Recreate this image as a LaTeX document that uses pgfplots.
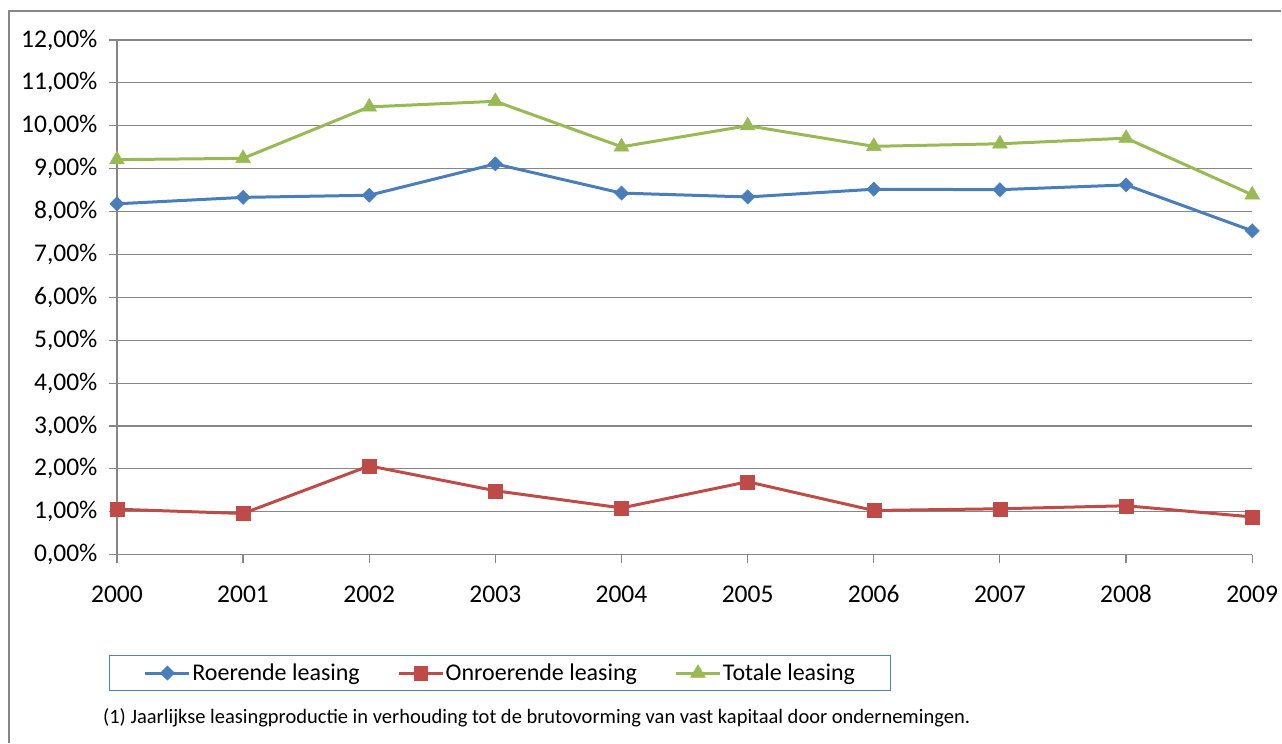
\documentclass[border=0pt]{standalone}
\usepackage{fontspec}
\setmainfont{Carlito}
\usepackage{pgfplots}
\pgfplotsset{compat=1.18}
\definecolor{cblue}{RGB}{74,126,187}
\definecolor{cred}{RGB}{190,75,72}
\definecolor{cgreen}{RGB}{152,185,84}
\definecolor{cgrid}{RGB}{134,134,134}
\definecolor{clegend}{RGB}{79,129,189}
\begin{document}
\begin{tikzpicture}[x=1pt,y=1pt]
\path (0,0) rectangle (1282,743);
\draw[cgrid, line width=1.5pt] (9,0) -- (9,732) -- (1282,732);
\begin{axis}[
  set layers,
  at={(117pt,188pt)}, anchor=south west,
  width=1136pt, height=515pt, scale only axis,
  xmin=2000, xmax=2009, ymin=0, ymax=12,
  xtick={2000,...,2009}, ytick={0,...,12},
  separate axis lines,
  every outer x axis line/.style={draw=none},
  every outer y axis line/.style={draw=none},
  axis line style={draw=none},
  ymajorgrids=false, xmajorgrids=false,
  extra description/.code={
    \pgfonlayer{axis grid}
    \foreach \i in {1,...,12} {
      \pgfmathsetmacro{\yy}{\i/12}
      \draw[cgrid, line width=1.2pt] (rel axis cs:0,\yy) -- (rel axis cs:1,\yy);
    }
    \draw[cgrid, line width=1.2pt] (rel axis cs:0,1) -- (rel axis cs:0,0) -- (rel axis cs:1,0);
    \endpgfonlayer
  },
  tick pos=left, tick align=outside, major tick length=8pt,
  tick style={cgrid, line width=1.2pt},
  clip=false,
  tick label style={font=\fontsize{25.5}{30}\selectfont, text=black},
  yticklabel style={xshift=-8pt},
  xticklabel style={yshift=-30pt, text height=0.62em, text depth=0pt},
  yticklabel={\pgfmathprintnumber[fixed,fixed zerofill,precision=2,use comma,assume math mode=true]{\tick}\%},
  xticklabel={\pgfmathprintnumber[fixed,precision=0,1000 sep={},assume math mode=true]{\tick}},
  legend columns=3,
  legend image code/.code={\draw[mark repeat=2,mark phase=2] plot coordinates {(0pt,0pt) (22pt,0pt) (44pt,0pt)};},
  legend style={at={(0.3376,-0.2301)}, anchor=center, draw=clegend, line width=1pt,
    font=\fontsize{24}{28}\selectfont, inner xsep=34pt, inner ysep=6.5pt,
    nodes={inner xsep=1.5pt, inner ysep=2pt},
    /tikz/every even column/.append style={column sep=36pt}},
]
\addplot[cblue, line width=3pt, mark=square*, mark size=5pt, mark options={solid, rotate=45, line width=0.5pt, fill=cblue}]
  coordinates {(2000,8.18) (2001,8.33) (2002,8.38) (2003,9.11) (2004,8.43) (2005,8.34) (2006,8.52) (2007,8.51) (2008,8.62) (2009,7.55)};
\addlegendentry{Roerende leasing}
\addplot[cred, line width=3pt, mark=square*, mark size=7pt, mark options={solid, line width=0.5pt, fill=cred}]
  coordinates {(2000,1.06) (2001,0.96) (2002,2.07) (2003,1.49) (2004,1.09) (2005,1.70) (2006,1.03) (2007,1.07) (2008,1.14) (2009,0.88)};
\addlegendentry{Onroerende leasing}
\addplot[cgreen, line width=3pt, mark=triangle*, mark size=8.5pt, mark options={solid, line width=0.5pt, fill=cgreen}]
  coordinates {(2000,9.21) (2001,9.24) (2002,10.44) (2003,10.57) (2004,9.51) (2005,10.00) (2006,9.52) (2007,9.58) (2008,9.71) (2009,8.39)};
\addlegendentry{Totale leasing}
\end{axis}
\node[anchor=base west, font=\fontsize{20.5}{24}\selectfont, inner sep=0pt] at (103,19)
  {(1) Jaarlijkse leasingproductie in verhouding tot de brutovorming van vast kapitaal door ondernemingen.};
\end{tikzpicture}
\end{document}
